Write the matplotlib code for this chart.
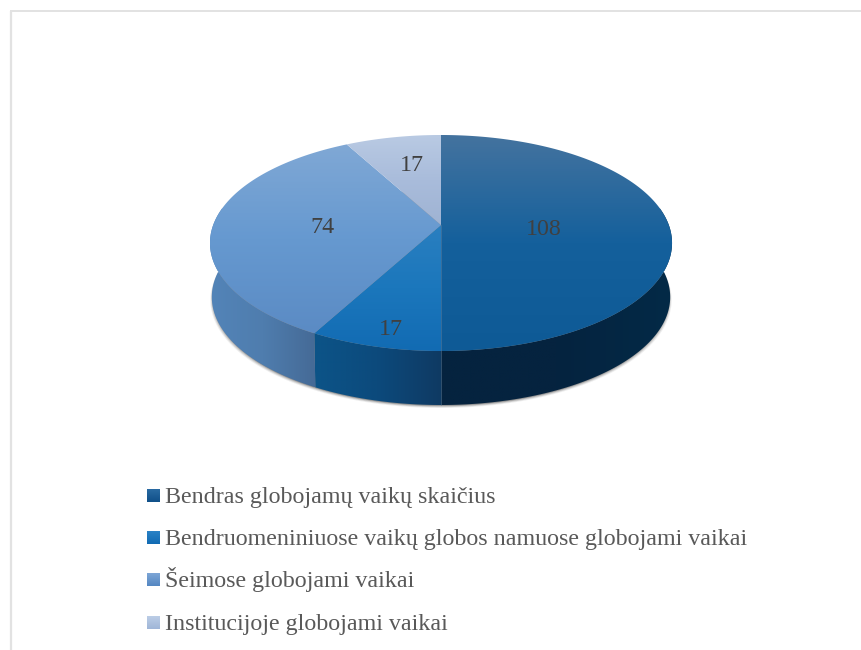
import numpy as np
import matplotlib
matplotlib.use("Agg")
import matplotlib.pyplot as plt
from matplotlib.colors import LinearSegmentedColormap
from matplotlib.patches import Polygon

plt.rcParams['font.family'] = ['Liberation Serif', 'DejaVu Serif']

# Data
labels = ["Bendras globojamų vaikų skaičius",
          "Bendruomeniniuose vaikų globos namuose globojami vaikai",
          "Šeimose globojami vaikai",
          "Institucijoje globojami vaikai"]
values = [108, 17, 74, 17]

# Colours, gradient stops (top to bottom / left to right)
top_colors = [["#44739f", "#14609c", "#0e5a96"],
              ["#2a7fc0", "#1b77bc", "#126bb3"],
              ["#80a8d5", "#6699d0", "#5b8bc4"],
              ["#b9cae3", "#a9bcdb", "#9fb3d3"]]
side_colors = [["#05233f", "#05233f", "#032a47"],
               ["#0c5488", "#0c4a7c", "#0f3a63"],
               ["#5384b8", "#4f7dae", "#456a96"],
               ["#5a8cbf", "#4f7dae", "#456a96"]]
key_colors = [["#2a6aa3", "#0f5088"], ["#2a82c6", "#126bb3"],
              ["#7ea6d6", "#5487c2"], ["#bccde6", "#9fb6d8"]]

# Geometry of the tilted disc, in pixels
cx, apex_y = 441.0, 225.0
k, A, B = 1 / 6, 227.8, 105.0
depth = 54.0
fw, fh = 861, 650

fig = plt.figure(figsize=(fw / 100, fh / 100), dpi=100)
ax = fig.add_axes([0, 0, 1, 1])
ax.set_axis_off()


def rim(theta, drop=0.0):
    # theta in degrees, clockwise from the back of the disc
    t = np.radians(theta)
    u, v = np.sin(t), -np.cos(t)
    w = 1 - k * v
    scale = 1 - 0.008 * drop / depth
    return np.column_stack([cx + scale * A * u / w, apex_y + B * v / w + drop])


def fill_gradient(pts, colors, horizontal=False, zorder=2):
    cmap = LinearSegmentedColormap.from_list("g", colors)
    grad = np.linspace(0, 1, 256)
    grad = grad.reshape(1, -1) if horizontal else grad.reshape(-1, 1)
    x0, y0 = pts.min(axis=0)
    x1, y1 = pts.max(axis=0)
    im = ax.imshow(grad, cmap=cmap, extent=[x0, x1, y1, y0], aspect='auto',
                   zorder=zorder, interpolation='bilinear')
    clip = Polygon(pts, closed=True, transform=ax.transData, fc='none', ec='none')
    ax.add_patch(clip)
    im.set_clip_path(clip)


total = sum(values)
edges = np.concatenate([[0], np.cumsum(values) / total * 360])
front_lo = np.degrees(np.arccos(k))
front_hi = 360 - front_lo

# Soft shadow under the disc, dropped downwards
outer = rim(np.linspace(0, 360, 240), depth)
for grow, alpha in zip([3.0, 2.2, 1.4, 0.7], [0.08, 0.14, 0.20, 0.28]):
    sh = outer.copy()
    sh[:, 0] = cx + (sh[:, 0] - cx) * (1 + (grow - 1.5) / 230)
    sh[:, 1] = sh[:, 1] + grow
    ax.add_patch(Polygon(sh, closed=True, fc='#303030', ec='none', alpha=alpha, zorder=1))

# Side walls
for i in range(len(values)):
    a0, a1 = max(edges[i], front_lo), min(edges[i + 1], front_hi)
    if a1 <= a0:
        continue
    th = np.linspace(a0, a1, 120)
    pts = np.vstack([rim(th), rim(th[::-1], depth)])
    fill_gradient(pts, side_colors[i], horizontal=True, zorder=2)

# Top faces
for i in range(len(values)):
    th = np.linspace(edges[i], edges[i + 1], 200)
    pts = np.vstack([[cx, apex_y], rim(th)])
    fill_gradient(pts, top_colors[i], zorder=3)

# Thin seam down the front
front = rim(np.array([180.0]))[0]
ax.plot([cx, cx], [apex_y, front[1] + depth], color='#5f7f9f', lw=0.5, alpha=0.7, zorder=4)

# Data labels
label_pos = [(544, 235), (391, 335), (322, 233), (412, 171)]
for v, (x, y) in zip(values, label_pos):
    ax.text(x, y, str(v), fontsize=17.3, color='#404040', ha='center', va='baseline', zorder=5)

# Legend
key_y = [495.5, 537.5, 579.5, 622.5]
text_y = [503, 545, 587, 630]
for name, y, ty, c in zip(labels, key_y, text_y, key_colors):
    key = np.array([[147, y - 6.5], [160, y - 6.5], [160, y + 6.5], [147, y + 6.5]], dtype=float)
    fill_gradient(key, c, zorder=5)
    ax.text(165, ty, name, fontsize=17.25, color='#595959', ha='left', va='baseline', zorder=5)

# Frame of the chart area
ax.plot([10.7, 10.7], [fh, 11], color='#e2e2e2', lw=1.6, solid_capstyle='butt', zorder=0)
ax.plot([10, fw], [11, 11], color='#e2e2e2', lw=1.4, solid_capstyle='butt', zorder=0)

ax.set_xlim(0, fw)
ax.set_ylim(fh, 0)
fig.savefig("out.png", dpi=100, facecolor='white')
